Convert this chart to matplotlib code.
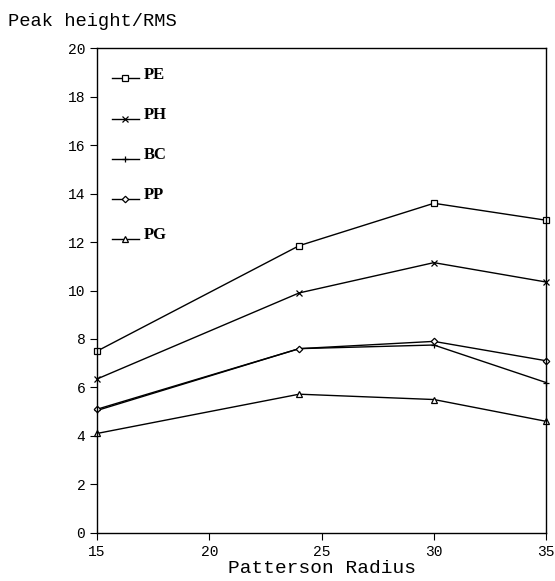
import matplotlib.pyplot as plt
from matplotlib.legend_handler import HandlerLine2D

radius = [15, 24, 30, 35]
pe = [7.5, 11.85, 13.6, 12.9]
ph = [6.35, 9.9, 11.15, 10.35]
bc = [5.05, 7.6, 7.75, 6.2]
pp = [5.1, 7.6, 7.9, 7.1]
pg = [4.1, 5.72, 5.5, 4.6]

series = [("PE", pe, "s"), ("PH", ph, "x"), ("BC", bc, "+"),
          ("PP", pp, "D"), ("PG", pg, "^")]

mono = "Liberation Mono"


# legend lines sit a little below their labels, like in the original
class LowLine(HandlerLine2D):
    def create_artists(self, legend, orig_handle, xdescent, ydescent,
                       width, height, fontsize, trans):
        arts = super().create_artists(legend, orig_handle, xdescent, ydescent,
                                      width, height, fontsize, trans)
        for a in arts:
            a.set_ydata([y - 4 for y in a.get_ydata()])
        return arts


fig = plt.figure(figsize=(5.55, 5.81), dpi=100)
ax = fig.add_axes([0.175, 0.083, 0.809, 0.834])

for name, vals, m in series:
    ms = {"s": 4, "x": 4.5, "+": 5, "D": 3.3, "^": 4.2}[m]
    ax.plot(radius, vals, color="black", lw=1.0, marker=m, ms=ms,
            mfc="white", mec="black", mew=0.9, label=name, clip_on=False)

ax.set_xlim(15, 35)
ax.set_ylim(0, 20)
ax.set_xticks([15, 20, 25, 30, 35])
ax.set_yticks(range(0, 21, 2))
ax.tick_params(direction="out", length=5, width=0.8, labelsize=10.5)
for lab in ax.get_xticklabels() + ax.get_yticklabels():
    lab.set_family(mono)
for s in ax.spines.values():
    s.set_linewidth(1.0)

ax.set_xlabel("Patterson Radius", family=mono, fontsize=14, labelpad=1)
fig.text(0.014, 0.955, "Peak height/RMS", family=mono, fontsize=13.5)

leg = ax.legend(loc="upper left", frameon=False, handlelength=1.6,
                labelspacing=1.45, handletextpad=0.3,
                bbox_to_anchor=(0.0, 0.993),
                handler_map={plt.Line2D: LowLine()},
                prop={"family": "Liberation Serif", "weight": "bold", "size": 12})

fig.savefig("out.png", dpi=100)
